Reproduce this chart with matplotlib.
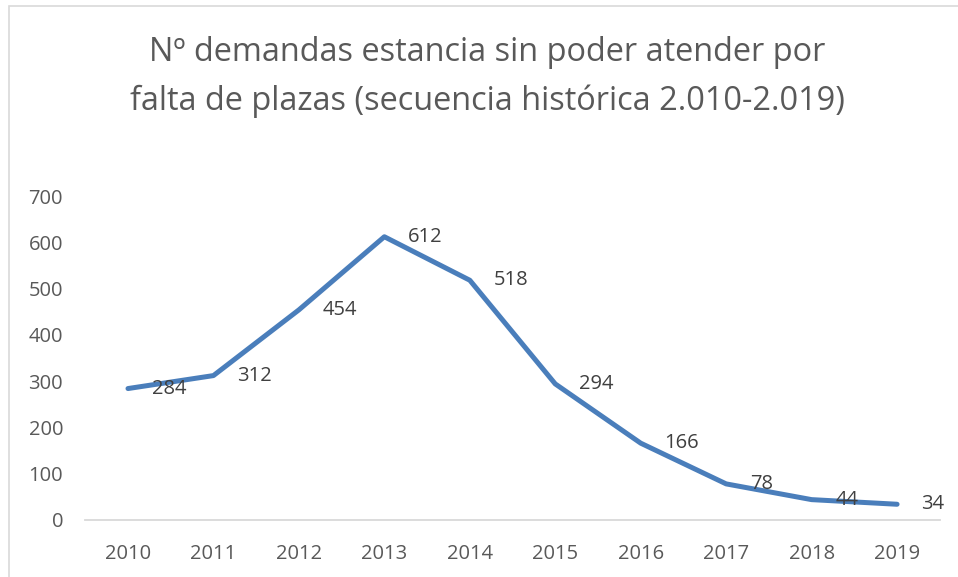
import numpy as np
import matplotlib
matplotlib.use("Agg")
import matplotlib.pyplot as plt
from matplotlib.patches import Rectangle

years = ["2010", "2011", "2012", "2013", "2014", "2015", "2016", "2017", "2018", "2019"]
demandas = [284, 312, 454, 612, 518, 294, 166, 78, 44, 34]
yticks = [0, 100, 200, 300, 400, 500, 600, 700]

title = "Nº demandas estancia sin poder atender por\nfalta de plazas (secuencia histórica 2.010-2.019)"

plt.rcParams["font.family"] = ["Open Sans", "DejaVu Sans"]

fig = plt.figure(figsize=(9.58, 5.77), dpi=100)
ax = fig.add_axes([0.089, 0.0988, 0.892, 0.5615])

x = np.arange(len(years))
ax.plot(x, demandas, color="#4a7ebb", lw=3.6, solid_capstyle="round", solid_joinstyle="round")

for xi, v in zip(x, demandas):
    ax.annotate(str(v), (xi, v), xytext=(17, 0), textcoords="offset points",
                ha="left", va="center", fontsize=14.5, color="#404040")

ax.set_xlim(-0.5, len(years) - 0.5)
ax.set_ylim(0, 700)
ax.set_xticks(x)
ax.set_xticklabels(years)
ax.set_yticks(yticks)
ax.tick_params(axis="both", length=0, labelsize=14.5, labelcolor="#595959")
ax.tick_params(axis="x", pad=17)
ax.tick_params(axis="y", pad=16)
for side in ["top", "right", "left"]:
    ax.spines[side].set_visible(False)
ax.spines["bottom"].set_color("#d9d9d9")
ax.spines["bottom"].set_linewidth(1.3)

fig.text(0.509, 0.866, title, ha="center", va="center", fontsize=23.4,
         color="#595959", linespacing=1.6)

# chart frame, as in the spreadsheet export
fig.patches.append(Rectangle((9 / 958, -0.05), 1.2, 1.05 - 6 / 577,
                             transform=fig.transFigure, fill=False,
                             edgecolor="#d9d9d9", lw=1.2))

fig.savefig("out.png", dpi=100)
